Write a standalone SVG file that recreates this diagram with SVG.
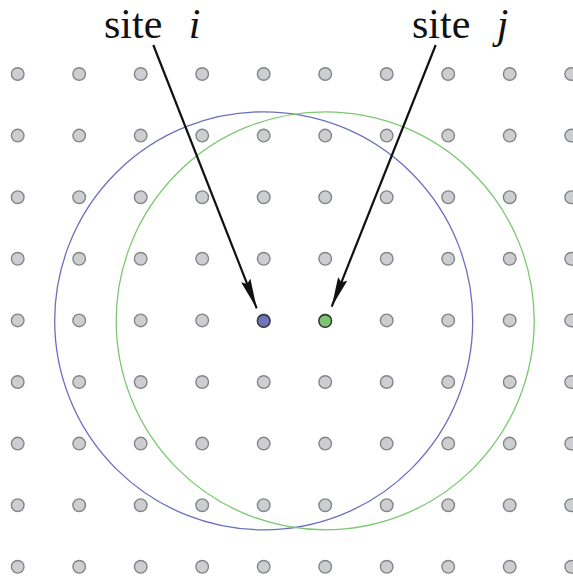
<svg xmlns="http://www.w3.org/2000/svg" width="573" height="578" viewBox="0 0 573 578">
<style>
.dot{fill:#cdced1;stroke:#858585;stroke-width:1.4}
.lbl{font-family:"Liberation Serif",serif;font-size:42px;fill:#111}
.it{font-style:italic}
.arr{stroke:#111;stroke-width:2.2;fill:none}
</style>
<defs>
<marker id="ah" viewBox="0 0 30 10" refX="30" refY="5" markerWidth="30" markerHeight="10" markerUnits="userSpaceOnUse" orient="auto">
<path d="M0,0 L30,5 L0,10 L4,5 Z" fill="#111"/>
</marker>
<g id="row">
<circle class="dot" cx="17.7" cy="0" r="6.3"/>
<circle class="dot" cx="79.2" cy="0" r="6.3"/>
<circle class="dot" cx="140.7" cy="0" r="6.3"/>
<circle class="dot" cx="202.2" cy="0" r="6.3"/>
<circle class="dot" cx="263.7" cy="0" r="6.3"/>
<circle class="dot" cx="325.2" cy="0" r="6.3"/>
<circle class="dot" cx="386.7" cy="0" r="6.3"/>
<circle class="dot" cx="448.2" cy="0" r="6.3"/>
<circle class="dot" cx="509.7" cy="0" r="6.3"/>
<circle class="dot" cx="571.2" cy="0" r="6.3"/>
</g>
</defs>
<rect width="573" height="578" fill="#fff"/>
<g id="grid">
<use href="#row" y="74"/>
<use href="#row" y="135.6"/>
<use href="#row" y="197.2"/>
<use href="#row" y="258.8"/>
<use href="#row" y="320.4"/>
<use href="#row" y="382"/>
<use href="#row" y="443.6"/>
<use href="#row" y="505.2"/>
<use href="#row" y="566.8"/>
</g>
<g id="range-i"><circle cx="263.7" cy="320.8" r="209" fill="none" stroke="#6b70bd" stroke-width="1.3"/></g>
<g id="range-j"><circle cx="325.2" cy="320.8" r="209" fill="none" stroke="#7cc872" stroke-width="1.3"/></g>
<g id="site-i"><circle cx="263.7" cy="321" r="6.3" fill="#6e74bd" stroke="#333" stroke-width="1.4"/></g>
<g id="site-j"><circle cx="325.2" cy="321" r="6.3" fill="#7cc872" stroke="#333" stroke-width="1.4"/></g>
<g id="label-i"><text class="lbl" x="104" y="38">site <tspan class="it" dx="16">i</tspan></text></g>
<g id="label-j"><text class="lbl" x="412" y="38">site <tspan class="it" dx="16">j</tspan></text></g>
<g id="connectors">
<line class="arr" x1="153.3" y1="45" x2="256.7" y2="308.3" marker-end="url(#ah)"/>
<line class="arr" x1="435.7" y1="45" x2="331.7" y2="306.7" marker-end="url(#ah)"/>
</g>
</svg>
